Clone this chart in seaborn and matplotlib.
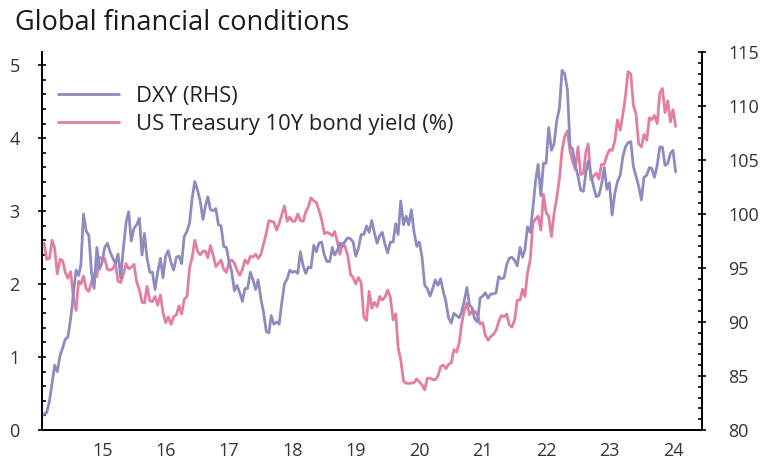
import matplotlib
matplotlib.use('Agg')
import matplotlib.pyplot as plt
import matplotlib.dates as mdates
from matplotlib.ticker import MultipleLocator, FuncFormatter, NullFormatter
import seaborn as sns
import pandas as pd

sns.set_theme(style='white')
plt.rcParams['font.family'] = ['Open Sans', 'DejaVu Sans']

# semi-monthly readings (15th and month end), Jul 2014 - Jul 2024
dxy = [
    81.2, 81.5, 81.6, 82.7, 84.3, 86.0, 85.4, 86.9, 87.6, 88.4, 88.6, 90.3,
    92.5, 94.8, 94.3, 95.3, 100.0, 98.4, 98.0, 94.6, 93.1, 96.9, 94.9, 95.5, 96.9, 97.3, 96.5, 95.9, 95.4, 96.3, 94.1, 96.9, 99.2, 100.2, 97.5, 98.7,
    99.0, 99.6, 96.2, 98.2, 95.9, 94.6, 94.6, 93.0, 94.6, 95.9, 94.1, 96.1, 96.6, 95.5, 94.8, 96.0, 96.1, 95.4, 97.9, 98.4, 99.2, 101.5, 103.0, 102.2,
    101.2, 99.5, 100.8, 101.6, 100.4, 100.3, 100.5, 99.0, 98.9, 97.0, 96.9, 95.6, 94.7, 92.9, 93.4, 92.7, 91.9, 93.1, 93.1, 94.6, 93.9, 93.0, 93.9, 92.1,
    90.9, 89.1, 89.0, 90.6, 89.8, 90.0, 89.8, 91.8, 93.5, 94.0, 94.8, 94.6, 94.7, 94.5, 96.5, 95.2, 94.5, 95.1, 95.0, 97.1, 96.5, 97.3, 97.4, 96.2,
    95.6, 95.6, 96.9, 96.2, 96.6, 97.3, 97.0, 97.5, 97.8, 97.7, 97.4, 96.1, 96.8, 98.1, 98.1, 98.9, 98.3, 99.4, 98.3, 97.3, 98.0, 98.3, 97.2, 96.4,
    97.4, 97.4, 99.1, 98.1, 101.2, 99.0, 99.8, 99.0, 100.4, 98.3, 97.0, 97.4, 96.1, 93.4, 93.1, 92.4, 93.1, 93.9, 93.4, 94.0, 92.8, 91.9, 90.4, 89.9,
    90.8, 90.6, 90.4, 90.9, 91.9, 93.2, 91.6, 91.3, 90.3, 90.0, 92.2, 92.4, 92.7, 92.2, 92.6, 92.6, 92.7, 94.2, 94.0, 94.1, 95.3, 95.9, 96.0, 95.7,
    95.2, 96.9, 96.0, 96.7, 98.8, 98.3, 100.5, 103.0, 104.6, 101.7, 104.7, 104.7, 108.0, 105.9, 106.5, 108.7, 109.8, 113.3, 113.0, 111.5, 106.3, 106.0, 104.5, 103.5,
    102.2, 102.1, 103.9, 104.9, 103.7, 102.5, 101.6, 101.7, 102.7, 104.3, 102.3, 102.9, 99.9, 101.9, 103.0, 103.6, 105.3, 106.2, 106.6, 106.7, 104.4, 103.5, 102.6, 101.3,
    103.4, 103.6, 104.3, 104.2, 103.4, 104.5, 106.2, 106.2, 104.5, 104.7, 105.6, 105.9, 103.9,
]
ust10y = [
    2.55, 2.56, 2.34, 2.35, 2.60, 2.49, 2.14, 2.34, 2.32, 2.16, 2.08, 2.17,
    1.83, 1.64, 2.04, 2.00, 2.11, 1.93, 1.90, 2.03, 2.14, 2.10, 2.37, 2.35, 2.35, 2.20, 2.19, 2.21, 2.28, 2.04, 2.02, 2.14, 2.28, 2.21, 2.23, 2.27,
    2.03, 1.92, 1.75, 1.74, 1.97, 1.77, 1.76, 1.83, 1.71, 1.85, 1.61, 1.47, 1.55, 1.45, 1.55, 1.58, 1.70, 1.59, 1.79, 1.83, 2.22, 2.37, 2.60, 2.45,
    2.40, 2.45, 2.45, 2.36, 2.53, 2.39, 2.24, 2.28, 2.33, 2.20, 2.16, 2.30, 2.33, 2.29, 2.19, 2.12, 2.20, 2.33, 2.28, 2.38, 2.37, 2.41, 2.35, 2.41,
    2.55, 2.70, 2.87, 2.86, 2.85, 2.74, 2.83, 2.95, 3.07, 2.86, 2.92, 2.86, 2.86, 2.96, 2.87, 2.86, 2.99, 3.06, 3.18, 3.14, 3.12, 3.01, 2.89, 2.69,
    2.71, 2.69, 2.66, 2.72, 2.59, 2.41, 2.56, 2.51, 2.39, 2.13, 2.09, 2.00, 2.09, 2.02, 1.55, 1.50, 1.90, 1.67, 1.75, 1.69, 1.83, 1.78, 1.82, 1.92,
    1.82, 1.51, 1.59, 1.13, 0.96, 0.67, 0.64, 0.64, 0.64, 0.65, 0.70, 0.66, 0.62, 0.55, 0.71, 0.71, 0.69, 0.69, 0.74, 0.87, 0.89, 0.84, 0.90, 0.92,
    1.10, 1.07, 1.20, 1.44, 1.63, 1.74, 1.58, 1.63, 1.63, 1.58, 1.45, 1.47, 1.30, 1.23, 1.28, 1.31, 1.37, 1.48, 1.57, 1.55, 1.59, 1.44, 1.41, 1.51,
    1.78, 1.78, 1.93, 1.83, 2.15, 2.34, 2.83, 2.89, 2.93, 2.74, 3.23, 2.98, 2.93, 2.65, 2.97, 3.19, 3.45, 3.83, 4.02, 4.10, 3.82, 3.68, 3.57, 3.88,
    3.50, 3.52, 3.82, 3.92, 3.43, 3.48, 3.52, 3.44, 3.64, 3.64, 3.76, 3.84, 3.83, 3.96, 4.25, 4.11, 4.32, 4.57, 4.91, 4.88, 4.45, 4.33, 3.92, 3.88,
    4.05, 3.97, 4.28, 4.25, 4.31, 4.20, 4.62, 4.68, 4.35, 4.51, 4.22, 4.39, 4.16,
]
labels = ['DXY (RHS)', 'US Treasury 10Y bond yield (%)']
colors = ['#8E8BBE', '#E47DA2']

try:
    dates = pd.date_range('2014-07-15', '2024-07-15', freq='SME')
except ValueError:
    dates = pd.date_range('2014-07-15', '2024-07-15', freq='SM')
df = pd.DataFrame({'date': dates, 'dxy': dxy, 'ust': ust10y})

fig = plt.figure(figsize=(7.62, 4.62), dpi=100)
ax = fig.add_axes([42 / 762, 32 / 462, 660 / 762, 378 / 462])
ax2 = ax.twinx()

sns.lineplot(data=df, x='date', y='ust', ax=ax, color=colors[1], linewidth=2.0, label=labels[1], legend=False)
sns.lineplot(data=df, x='date', y='dxy', ax=ax2, color=colors[0], linewidth=2.0, label=labels[0], legend=False)

ax.set_xlim(pd.Timestamp('2014-07-19'), pd.Timestamp('2024-12-14'))
ax.set_ylim(0, 5.18)
ax2.set_ylim(80, 115)
ax.set_xlabel('')
ax.set_ylabel('')
ax2.set_ylabel('')

txt = '#333333'
ax.xaxis.set_major_locator(mdates.YearLocator())
ax.xaxis.set_major_formatter(NullFormatter())
ax.xaxis.set_minor_locator(mdates.MonthLocator(bymonth=[1, 4, 7, 10]))
ax.xaxis.set_minor_formatter(FuncFormatter(
    lambda v, p: mdates.num2date(v).strftime('%y') if mdates.num2date(v).month == 7 else ''))
ax.tick_params(axis='x', which='major', direction='inout', length=9, width=1.2, color='black')
ax.tick_params(axis='x', which='minor', direction='in', length=3, width=1.2, color='black',
               labelsize=13, labelcolor=txt, pad=9)

ax.yaxis.set_major_locator(MultipleLocator(1))
ax.yaxis.set_minor_locator(MultipleLocator(0.2))
ax.tick_params(axis='y', which='major', direction='inout', length=6, width=1.2, color='black',
               labelsize=13, labelcolor=txt, pad=13, left=True)
ax.tick_params(axis='y', which='minor', direction='in', length=3, width=1.2, color='black', left=True)

ax2.yaxis.set_major_locator(MultipleLocator(5))
ax2.yaxis.set_minor_locator(MultipleLocator(1))
ax2.tick_params(axis='y', which='major', direction='inout', length=6, width=1.2, color='black',
                labelsize=13, labelcolor=txt, pad=16, right=True)
ax2.tick_params(axis='y', which='minor', direction='in', length=3, width=1.2, color='black', right=True)

for a in (ax, ax2):
    a.spines['top'].set_visible(False)
    for s in ('left', 'right', 'bottom'):
        a.spines[s].set_color('black')
        a.spines[s].set_linewidth(1.3)

h1, l1 = ax2.get_legend_handles_labels()
h2, l2 = ax.get_legend_handles_labels()
ax2.legend(h1 + h2, l1 + l2, loc='upper left', bbox_to_anchor=(58 / 762, 1 - 86 / 462),
           bbox_transform=fig.transFigure, frameon=False, fontsize=15.8, handlelength=2.8,
           handletextpad=0.75, labelspacing=0.32, borderpad=0, borderaxespad=0, labelcolor='#222222')

fig.text(15 / 762, 1 - 30 / 462, 'Global financial conditions', fontsize=19.5, color='#1a1a1a',
         ha='left', va='baseline')

fig.savefig('out.png', dpi=100)
